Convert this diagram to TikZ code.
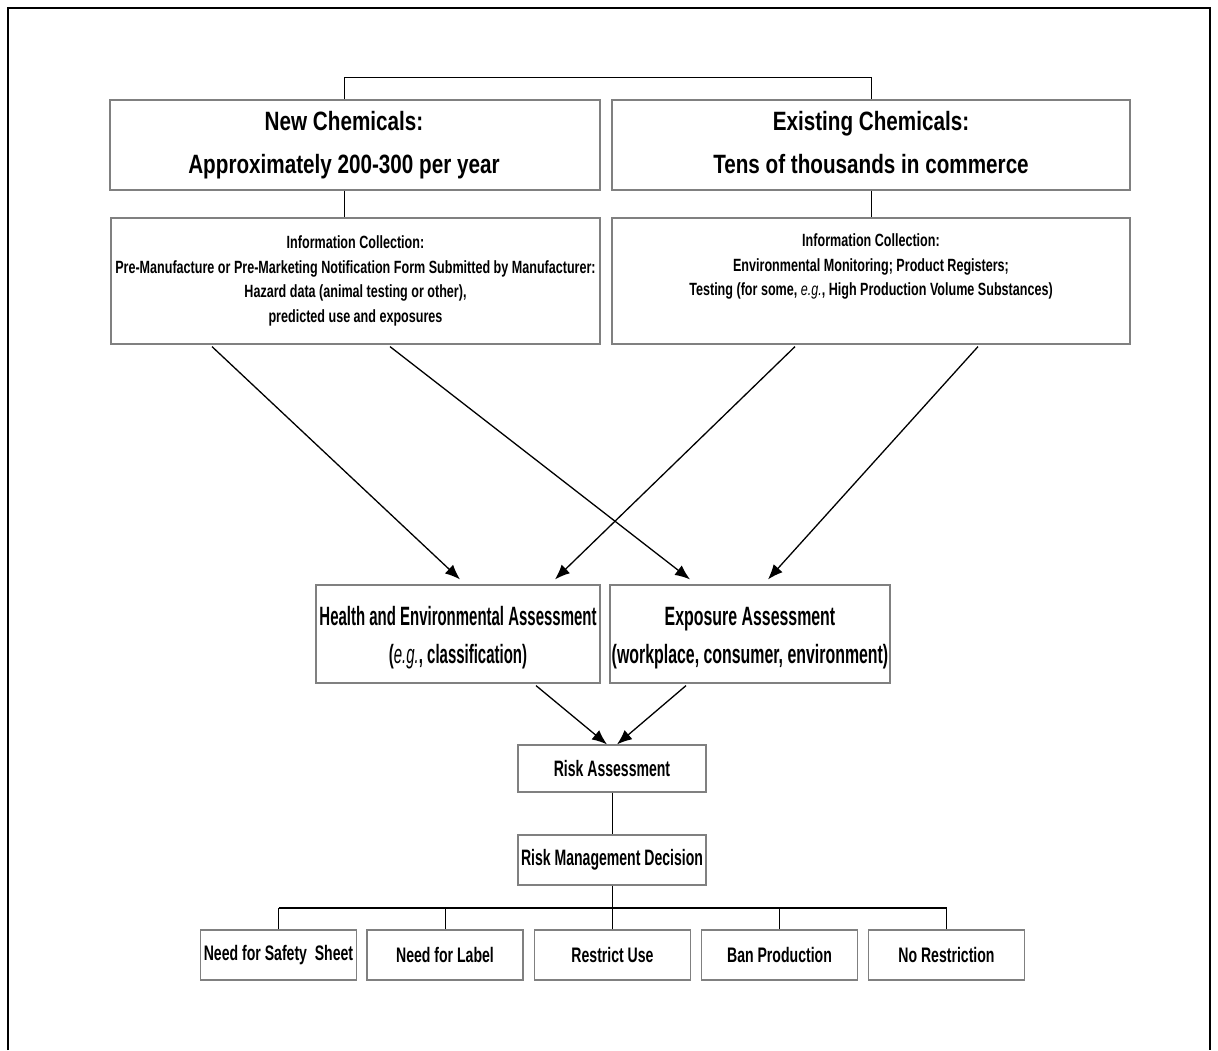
\documentclass[tikz,border=0pt]{standalone}
\usepackage{fontspec}
\setmainfont{Liberation Sans}
\newfontfamily\titlefont{Liberation Sans}[FakeStretch=0.78]
\newfontfamily\infofont{Liberation Sans}[FakeStretch=0.71]
\newfontfamily\healthfont{Liberation Sans}[FakeStretch=0.565]
\newfontfamily\expofont{Liberation Sans}[FakeStretch=0.6]
\newfontfamily\riskfont{Liberation Sans}[FakeStretch=0.63]
\newfontfamily\optfont{Liberation Sans}[FakeStretch=0.67]
\usetikzlibrary{arrows.meta,calc}

\tikzset{
  box/.style={draw=black!50, line width=1.2pt, fill=white, align=center, inner sep=0pt},
  titlebox/.style={box, minimum height=90pt, font=\titlefont\bfseries\fontsize{26.5}{43}\selectfont},
  infobox/.style={box, minimum height=126pt, font=\infofont\bfseries\fontsize{17.7}{24.5}\selectfont},
  assessbox/.style={box, minimum height=98pt},
  riskbox/.style={box, minimum width=188pt, font=\riskfont\bfseries\fontsize{22.3}{26}\selectfont},
  optbox/.style={box, minimum width=156pt, minimum height=50pt, font=\optfont\bfseries\fontsize{21}{24}\selectfont},
  link/.style={line width=0.8pt},
  bus/.style={line width=2pt},
  flow/.style={line width=1.3pt, -{Latex[length=15pt,width=12pt]}},
}

\begin{document}
\begin{tikzpicture}[x=1pt,y=-1pt]
      \useasboundingbox (0,0) rectangle (1218,1050);
      \draw[line width=2pt] (8,1050) -- (8,8) -- (1210,8) -- (1210,1050);

      \node[titlebox, minimum width=490pt] (newc) at (355,145) {New Chemicals:\hspace*{22pt}\\Approximately 200-300 per year\hspace*{22pt}};
      \node[titlebox, minimum width=518pt] (exist) at (871,145) {Existing Chemicals:\\Tens of thousands in commerce\vphantom{y}};

      \node[infobox, minimum width=489pt] (infonew) at (355.5,281) {Information Collection:\\Pre-Manufacture or Pre-Marketing Notification Form Submitted by Manufacturer:\\Hazard data (animal testing or other),\\predicted use and exposures};
      \node[infobox, minimum width=518pt] (infoex) at (871,281) {Information Collection:\\Environmental Monitoring; Product Registers;\\Testing (for some, \textit{\mdseries e.g.}, High Production Volume Substances)\\\strut};

      \node[assessbox, minimum width=284pt, font=\healthfont\bfseries\fontsize{26.5}{38}\selectfont] (health) at (458,634) {\rule{0pt}{27pt}Health and Environmental Assessment\\(\textit{\mdseries e.g.}, classification)};
      \node[assessbox, minimum width=280pt, font=\expofont\bfseries\fontsize{26.5}{38}\selectfont] (expo) at (750,634) {\rule{0pt}{27pt}Exposure Assessment\\(workplace, consumer, environment)};

      \node[riskbox, minimum height=47pt] (risk) at (612,768.5) {Risk Assessment};
      \node[riskbox, minimum height=50pt] (rmd) at (612,860) {Risk Management Decision};

      \node[optbox] (b1) at (278.5,955) {Need for Safety\ \ Sheet};
      \node[optbox] (b2) at (445,955) {Need for Label};
      \node[optbox] (b3) at (612.5,955) {Restrict Use};
      \node[optbox] (b4) at (779.5,955) {Ban Production};
      \node[optbox] (b5) at (946.5,955) {No Restriction};

      \coordinate (jn) at ([xshift=-11pt]newc.north);
      \draw[link] (jn) -- ++(0,-22) -| (exist.north);
      \draw[link] ([xshift=-11pt]newc.south) -- ([xshift=-11.5pt]infonew.north);
      \draw[link] (exist.south) -- (infoex.north);

      \draw[flow] ([xshift=-143.5pt,yshift=-2pt]infonew.south) -- ([xshift=2pt,yshift=5pt]health.north);
      \draw[flow] ([xshift=34.5pt,yshift=-2pt]infonew.south) -- ([xshift=-60pt,yshift=5pt]expo.north);
      \draw[flow] ([xshift=-76pt,yshift=-2pt]infoex.south) -- ([xshift=97pt,yshift=5pt]health.north);
      \draw[flow] ([xshift=107pt,yshift=-2pt]infoex.south) -- ([xshift=18pt,yshift=5pt]expo.north);

      \draw[flow] ([xshift=78pt,yshift=-2pt]health.south) -- ([xshift=-5pt]risk.north);
      \draw[flow] ([xshift=-64pt,yshift=-2pt]expo.south) -- ([xshift=5pt]risk.north);

      \draw[link] (risk.south) -- (rmd.north);
      \draw[link] (rmd.south) -- ++(0,22) coordinate (split);
      \draw[bus] (b1.north |- split) -- (b5.north |- split);
      \foreach \b in {b1,b2,b3,b4,b5}
        \draw[link] (\b.north) -- (\b.north |- split);
\end{tikzpicture}
\end{document}
